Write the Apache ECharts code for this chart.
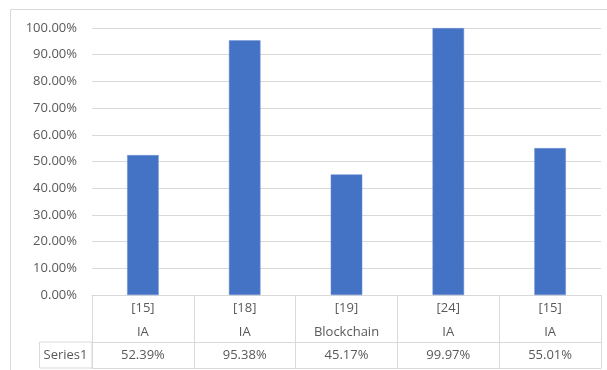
<!DOCTYPE html>
<html>
<head>
<meta charset="utf-8">
<script src="https://cdn.jsdelivr.net/npm/echarts@6/dist/echarts.min.js"></script>
<style>html,body{margin:0;padding:0;background:#fff;}#c{width:607px;height:370px;}</style>
</head>
<body>
<div id="c"></div>
<script>
const refs = ['[15]', '[18]', '[19]', '[24]', '[15]'];
const topics = ['IA', 'IA', 'Blockchain', 'IA', 'IA'];
const seriesName = 'Series1';
const values = [0.5239, 0.9538, 0.4517, 0.9997, 0.5501];
const yTicks = [0, 0.1, 0.2, 0.3, 0.4, 0.5, 0.6, 0.7, 0.8, 0.9, 1.0];

const FONT = '"Open Sans", "Liberation Sans", sans-serif';
const TXT = '#595959';
const LINE = '#d9d9d9';
const cats = refs.map((r, i) => r + '\n' + topics[i]);
const valLabels = values.map(v => (v * 100).toFixed(2) + '%');

const chart = echarts.init(document.getElementById('c'), null, {renderer: 'canvas'});
chart.setOption({
  animation: false,
  backgroundColor: '#fff',
  grid: {left: 92, right: 6, top: 28, bottom: 75, containLabel: false},
  xAxis: [
    {
      type: 'category', data: cats, position: 'bottom',
      axisLine: {show: true, lineStyle: {color: LINE, width: 1}},
      axisTick: {show: true, length: 73, interval: 0, lineStyle: {color: LINE}},
      axisLabel: {interval: 0, margin: 1, color: TXT, fontFamily: FONT, fontSize: 13, lineHeight: 24}
    },
    {
      type: 'category', data: valLabels, position: 'bottom', offset: 47,
      axisLine: {show: true, lineStyle: {color: LINE, width: 1}},
      axisTick: {show: false},
      axisLabel: {interval: 0, margin: 0, color: TXT, fontFamily: FONT, fontSize: 13, lineHeight: 26}
    },
    {
      type: 'category', data: valLabels, position: 'bottom', offset: 73,
      axisLine: {show: true, lineStyle: {color: LINE, width: 1}},
      axisTick: {show: false},
      axisLabel: {show: false}
    }
  ],
  yAxis: {
    type: 'value', min: yTicks[0], max: yTicks[yTicks.length - 1], interval: 0.1,
    axisLine: {show: false}, axisTick: {show: false},
    splitLine: {show: true, lineStyle: {color: LINE, width: 1}},
    axisLabel: {margin: 15, color: TXT, fontFamily: FONT, fontSize: 13,
      formatter: v => (v * 100).toFixed(2) + '%'}
  },
  series: [{
    name: seriesName, type: 'bar', data: values, barWidth: '31%', xAxisIndex: 0,
    itemStyle: {color: '#4472C4', borderColor: '#6f93d4', borderWidth: 0.5}
  }],
  graphic: [
    {type: 'rect', shape: {x: 10.5, y: 9.5, width: 620, height: 400}, style: {fill: null, stroke: LINE, lineWidth: 1}, silent: true, z: -1},
    {type: 'rect', shape: {x: 39.5, y: 342, width: 52.5, height: 26}, style: {fill: null, stroke: LINE, lineWidth: 1}, silent: true},
    {type: 'text', x: 65.5, y: 355, style: {text: seriesName, fill: TXT, font: '13px ' + FONT, align: 'center', verticalAlign: 'middle'}}
  ]
});
</script>
</body>
</html>
